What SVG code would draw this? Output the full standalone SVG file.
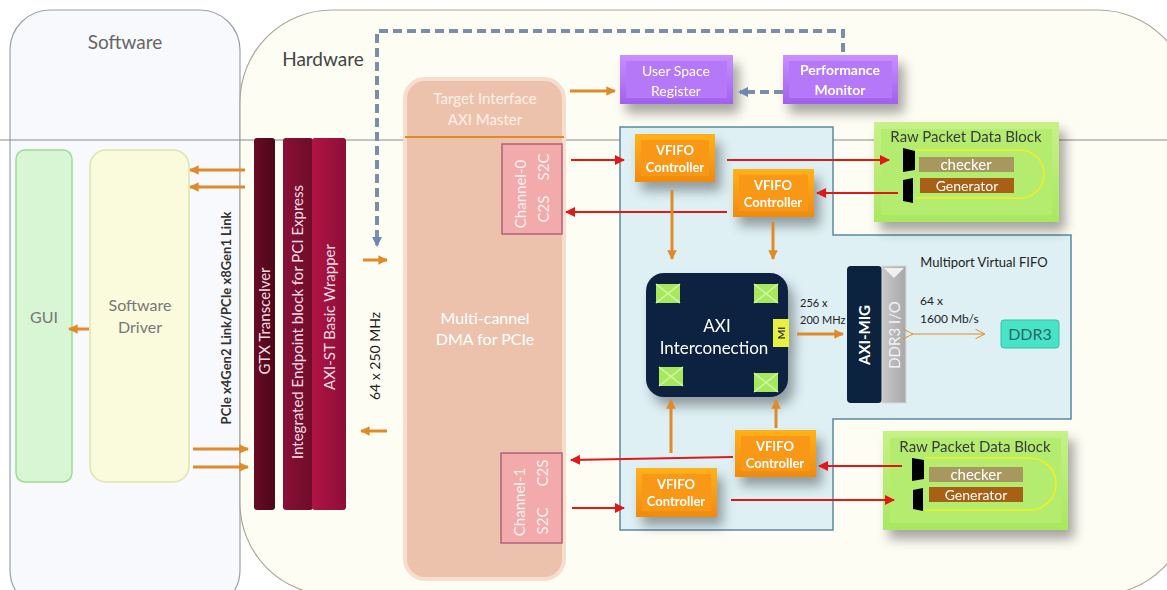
<svg xmlns="http://www.w3.org/2000/svg" width="1167" height="590" viewBox="0 0 1167 590">
<defs>
<style>
text{font-family:Lato,"Open Sans","Liberation Sans",sans-serif}
.oarr{stroke:#e08a2a;stroke-width:3;fill:none;marker-end:url(#ao)}
.rarr{stroke:#e01818;stroke-width:2;fill:none;marker-end:url(#ar)}
.vf{font-size:13px;font-weight:bold;fill:#fff;text-anchor:middle}
.wt{fill:#fff;text-anchor:middle}
.rp{font-size:15px;fill:#3a3a3a;text-anchor:middle}
.ch{font-size:15px;fill:#fff0f0;text-anchor:middle}
</style>
<marker id="ao" viewBox="0 0 10 10" refX="9" refY="5" markerWidth="3.2" markerHeight="3.2" orient="auto"><path d="M0,0L10,5L0,10z" fill="#e08a2a"/></marker>
<marker id="ar" viewBox="0 0 10 10" refX="9" refY="5" markerWidth="5" markerHeight="5" orient="auto"><path d="M0,0L10,5L0,10z" fill="#e01818"/></marker>
<marker id="ad" viewBox="0 0 10 10" refX="8" refY="5" markerWidth="2.6" markerHeight="2.6" orient="auto"><path d="M0,0L10,5L0,10z" fill="#6a88b0"/></marker>
<marker id="aopen" viewBox="0 0 10 10" refX="9" refY="5" markerWidth="8" markerHeight="8" orient="auto"><path d="M0,0L10,5L0,10" fill="none" stroke="#e08a2a" stroke-width="1"/></marker>
<filter id="sh" x="-40%" y="-40%" width="190%" height="190%"><feDropShadow dx="6" dy="9" stdDeviation="6" flood-color="#000" flood-opacity="0.35"/></filter>
<linearGradient id="gOr" x1="0" y1="0" x2="0" y2="1"><stop offset="0" stop-color="#ffb21a"/><stop offset="1" stop-color="#f08a10"/></linearGradient>
<linearGradient id="gPu" x1="0" y1="0" x2="0" y2="1"><stop offset="0" stop-color="#c890ff"/><stop offset="1" stop-color="#a060f0"/></linearGradient>
<linearGradient id="gGr" x1="0" y1="0" x2="0" y2="1"><stop offset="0" stop-color="#c8f088"/><stop offset="1" stop-color="#a8e860"/></linearGradient>
<linearGradient id="gBar1" x1="0" y1="0" x2="1" y2="0"><stop offset="0" stop-color="#6a0a25"/><stop offset="1" stop-color="#4a0818"/></linearGradient>
<linearGradient id="gBar2" x1="0" y1="0" x2="1" y2="0"><stop offset="0" stop-color="#8a1035"/><stop offset="1" stop-color="#6e0c2a"/></linearGradient>
<linearGradient id="gBar3" x1="0" y1="0" x2="1" y2="0"><stop offset="0" stop-color="#b01445"/><stop offset="1" stop-color="#8c0e36"/></linearGradient>
<linearGradient id="gDdr" x1="0" y1="0" x2="1" y2="0"><stop offset="0" stop-color="#c8c8c8"/><stop offset="1" stop-color="#a8a8a8"/></linearGradient>
<g id="env"><rect width="24" height="19" fill="#a8e860"/><path d="M0,0L12,9.5L24,0M0,19L12,9.5L24,19" fill="none" stroke="#d0f8a0" stroke-width="1.5"/></g>
</defs>

<rect width="1167" height="590" fill="#fff"/>

<g id="software-panel">
<rect x="10" y="10" width="230" height="600" rx="40" fill="#f7f9fd" stroke="#9aa2a8" stroke-width="1.2"/>
<text x="125" y="49" font-size="19" fill="#666" text-anchor="middle">Software</text>
</g>
<g id="hardware-panel">
<rect x="240" y="10" width="950" height="585" rx="92" fill="#fdfdf3" stroke="#a8a898" stroke-width="1.2"/>
<text x="323" y="66" font-size="19" fill="#444" text-anchor="middle">Hardware</text>
</g>
<line x1="0" y1="140" x2="1167" y2="140" stroke="#8a8a8a" stroke-width="1"/>

<g id="gui"><rect x="16" y="150" width="56" height="332" rx="9" fill="#d8f6d4" stroke="#9cdc94" stroke-width="1.5"/>
<text x="44" y="323" font-size="16" fill="#777" text-anchor="middle">GUI</text></g>
<g id="software-driver"><rect x="90" y="150" width="99" height="332" rx="16" fill="#fafadc" stroke="#e0e4a8" stroke-width="1.5"/>
<text x="140" y="311" font-size="16" fill="#777" text-anchor="middle">Software</text>
<text x="140" y="333" font-size="16" fill="#777" text-anchor="middle">Driver</text></g>

<g id="pcie-label"><text transform="translate(231,318) rotate(-90)" font-size="13" font-weight="bold" fill="#333" text-anchor="middle">PCIe x4Gen2 Link/PCIe x8Gen1 Link</text></g>

<g id="gtx"><rect x="254" y="138" width="21" height="372" rx="3" fill="url(#gBar1)"/>
<text transform="translate(270,321) rotate(-90)" font-size="15" fill="#f4dce4" text-anchor="middle">GTX Transcelver</text></g>
<g id="endpoint"><rect x="283" y="138" width="30" height="372" rx="3" fill="url(#gBar2)"/>
<text transform="translate(303,322) rotate(-90)" font-size="15" fill="#f4dce4" text-anchor="middle">Integrated Endpoint block for PCI Express</text></g>
<g id="axist"><rect x="312" y="138" width="34" height="372" rx="3" fill="url(#gBar3)"/>
<text transform="translate(335,317) rotate(-90)" font-size="15" fill="#f4dce4" text-anchor="middle">AXI-ST Basic Wrapper</text></g>

<g id="clk-label"><text transform="translate(380,356) rotate(-90)" font-size="14" fill="#222" text-anchor="middle">64 x 250 MHz</text></g>

<g id="dma">
<rect x="405" y="79" width="159" height="500" rx="20" fill="#ecc2ad" stroke="#f8dccc" stroke-width="4"/>
<text x="485" y="104" font-size="15" fill="#fff0e8" text-anchor="middle">Target Interface</text>
<text x="485" y="125" font-size="15" fill="#fff0e8" text-anchor="middle">AXI Master</text>
<line x1="405" y1="137" x2="564" y2="137" stroke="#e08a2a" stroke-width="2"/>
<text x="485" y="324" font-size="16" class="wt">Multi-cannel</text>
<text x="485" y="345" font-size="16" class="wt">DMA for PCIe</text>
</g>
<g id="channel0"><rect x="502" y="144" width="60" height="90" fill="#f2aaaa" stroke="#b0607a" stroke-width="1.5"/>
<text transform="translate(526,194) rotate(-90)" class="ch">Channel-0</text>
<text transform="translate(549,209) rotate(-90)" class="ch">C2S</text>
<text transform="translate(549,167) rotate(-90)" class="ch">S2C</text></g>
<g id="channel1"><rect x="501" y="453" width="61" height="90" fill="#f2aaaa" stroke="#b0607a" stroke-width="1.5"/>
<text transform="translate(525,502) rotate(-90)" class="ch">Channel-1</text>
<text transform="translate(548,521) rotate(-90)" class="ch">S2C</text>
<text transform="translate(548,473) rotate(-90)" class="ch">C2S</text></g>

<g id="user-space-register" filter="url(#sh)"><rect x="620" y="55" width="113" height="49" fill="url(#gPu)"/><rect x="626" y="61" width="101" height="37" fill="#b478f8"/>
<text x="676" y="76" font-size="14" class="wt">User Space</text><text x="676" y="96" font-size="14" class="wt">Register</text></g>
<g id="performance-monitor" filter="url(#sh)"><rect x="783" y="55" width="115" height="49" fill="url(#gPu)"/><rect x="789" y="61" width="103" height="37" fill="#b478f8"/>
<text x="840" y="75" font-size="14" font-weight="bold" class="wt">Performance</text><text x="840" y="95" font-size="14" font-weight="bold" class="wt">Monitor</text></g>

<g id="mvfifo">
<path d="M620,127H833V235H1071V419H833V530H620Z" fill="#def0f4" stroke="#5a8aa0" stroke-width="1.5"/>
<text x="984" y="267" font-size="13" fill="#222" text-anchor="middle">Multiport Virtual FIFO</text>
</g>

<g id="vfifo1" filter="url(#sh)"><rect x="635" y="134" width="80" height="48" fill="url(#gOr)"/><rect x="641" y="140" width="68" height="36" fill="#f89818"/>
<text x="675" y="155" class="vf">VFIFO</text><text x="675" y="172" class="vf">Controller</text></g>
<g id="vfifo2" filter="url(#sh)"><rect x="733" y="169" width="81" height="48" fill="url(#gOr)"/><rect x="739" y="175" width="69" height="36" fill="#f89818"/>
<text x="773" y="190" class="vf">VFIFO</text><text x="773" y="207" class="vf">Controller</text></g>
<g id="vfifo3" filter="url(#sh)"><rect x="735" y="430" width="81" height="47" fill="url(#gOr)"/><rect x="741" y="436" width="69" height="35" fill="#f89818"/>
<text x="775" y="451" class="vf">VFIFO</text><text x="775" y="468" class="vf">Controller</text></g>
<g id="vfifo4" filter="url(#sh)"><rect x="636" y="468" width="81" height="49" fill="url(#gOr)"/><rect x="642" y="474" width="69" height="37" fill="#f89818"/>
<text x="676" y="489" class="vf">VFIFO</text><text x="676" y="506" class="vf">Controller</text></g>

<g id="axi-interconnect" filter="url(#sh)">
<rect x="646" y="273" width="142" height="124" rx="18" fill="#0c2340"/>
<use href="#env" x="656" y="284"/><use href="#env" x="754" y="284"/><use href="#env" x="659" y="367"/><use href="#env" x="754" y="373"/>
<text x="717" y="332" font-size="17" class="wt">AXI</text><text x="714" y="354" font-size="17" class="wt">Interconection</text>
<rect x="773" y="319" width="16" height="28" fill="#e8f040"/>
<text transform="translate(785,333) rotate(-90)" font-size="10" font-weight="bold" fill="#333" text-anchor="middle">MI</text>
</g>
<text x="800" y="307" font-size="11" fill="#222">256 x</text>
<text x="800" y="324" font-size="11" fill="#222">200 MHz</text>

<g id="axi-mig"><rect x="847" y="266" width="35" height="137" rx="4" fill="#0c2340"/>
<text transform="translate(870,335) rotate(-90)" font-size="15" font-weight="bold" fill="#fff" text-anchor="middle">AXI-MIG</text></g>
<g id="ddr3-io"><rect x="882" y="266" width="24" height="137" fill="url(#gDdr)" stroke="#d8d8d8"/>
<path d="M884,268L894,278L904,268Z" fill="#f0f0f0"/>
<text transform="translate(900,335) rotate(-90)" font-size="15" fill="#f2f2f2" text-anchor="middle">DDR3 I/O</text></g>
<text x="920" y="305" font-size="12" fill="#222">64 x</text>
<text x="920" y="323" font-size="12" fill="#222">1600 Mb/s</text>
<g id="ddr3"><rect x="1001" y="320" width="58" height="28" rx="3" fill="#48e4c8" stroke="#30c0a8"/>
<text x="1030" y="340" font-size="16" fill="#2a6868" text-anchor="middle">DDR3</text></g>

<g id="raw-packet-top" filter="url(#sh)">
<rect x="874" y="122" width="185" height="100" fill="url(#gGr)"/><rect x="881" y="129" width="171" height="86" fill="#b4ec70"/>
<text x="966" y="142" class="rp">Raw Packet Data Block</text>
<path d="M916,150H1020A24,24 0 0 1 1020,198H916" fill="none" stroke="#f0f020" stroke-width="1.5"/>
<path d="M903,148L915,151V170L903,172Z" fill="#000"/><path d="M903,180L913,178V203L903,201Z" fill="#000"/>
<rect x="919" y="157" width="95" height="15" fill="#a89860"/><text x="966" y="170" font-size="15" class="wt">checker</text>
<rect x="920" y="178" width="94" height="15" fill="#a86018"/><text x="967" y="191" font-size="14" class="wt">Generator</text>
</g>
<g id="raw-packet-bottom" filter="url(#sh)">
<rect x="883" y="431" width="185" height="99" fill="url(#gGr)"/><rect x="890" y="438" width="171" height="85" fill="#b4ec70"/>
<text x="975" y="452" class="rp">Raw Packet Data Block</text>
<path d="M925,458H1030A26,26 0 0 1 1030,510H925" fill="none" stroke="#f0f020" stroke-width="1.5"/>
<path d="M912,458L924,460V479L912,481Z" fill="#000"/><path d="M913,490L923,488V511L913,509Z" fill="#000"/>
<rect x="929" y="467" width="94" height="15" fill="#a89860"/><text x="976" y="480" font-size="15" class="wt">checker</text>
<rect x="929" y="487" width="94" height="15" fill="#a86018"/><text x="976" y="500" font-size="14" class="wt">Generator</text>
</g>

<g id="connectors">
<line class="oarr" x1="245" y1="170" x2="190" y2="170"/>
<line class="oarr" x1="245" y1="187" x2="190" y2="187"/>
<line class="oarr" x1="193" y1="449" x2="248" y2="449"/>
<line class="oarr" x1="193" y1="467" x2="248" y2="467"/>
<line class="oarr" x1="89" y1="329" x2="69" y2="329"/>
<line class="oarr" x1="363" y1="260" x2="387" y2="260"/>
<line class="oarr" x1="387" y1="431" x2="361" y2="431"/>
<line class="oarr" x1="570" y1="91" x2="615" y2="91"/>
<path d="M843,52V31H377V245" fill="none" stroke="#7a8ea8" stroke-width="4" stroke-dasharray="9,5" marker-end="url(#ad)"/>
<path d="M783,92H740" fill="none" stroke="#7a8ea8" stroke-width="4" stroke-dasharray="9,5" marker-end="url(#ad)"/>
<line class="rarr" x1="571" y1="160" x2="624" y2="160"/>
<line class="rarr" x1="727" y1="160" x2="889" y2="160"/>
<line class="rarr" x1="898" y1="193" x2="817" y2="193"/>
<line class="rarr" x1="727" y1="212" x2="566" y2="212"/>
<line class="rarr" x1="733" y1="457" x2="571" y2="460"/>
<line class="rarr" x1="902" y1="466" x2="819" y2="466"/>
<line class="rarr" x1="572" y1="508" x2="624" y2="508"/>
<line class="rarr" x1="731" y1="500" x2="894" y2="500"/>
<line class="oarr" x1="672" y1="190" x2="672" y2="259"/>
<line class="oarr" x1="773" y1="222" x2="773" y2="259"/>
<line class="oarr" x1="671" y1="453" x2="671" y2="400"/>
<line class="oarr" x1="776" y1="428" x2="776" y2="400"/>
<line class="oarr" x1="797" y1="334" x2="843" y2="334"/>
<line x1="912" y1="334" x2="984" y2="334" stroke="#e08a2a" stroke-width="1.2" marker-end="url(#aopen)" marker-start="url(#aopen)"/>
</g>
</svg>
